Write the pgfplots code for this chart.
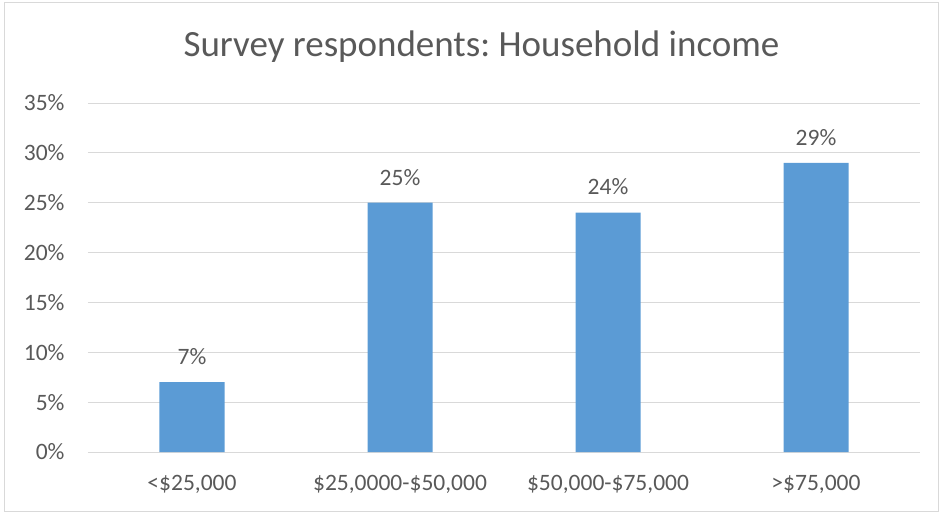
\documentclass[border=0pt]{standalone}
\usepackage{pgfplots}
\pgfplotsset{compat=1.18}
\usepackage{fontspec}
\setmainfont{Carlito}
\usetikzlibrary{calc}
\definecolor{barblue}{HTML}{5B9BD5}
\definecolor{txtc}{HTML}{595959}
\definecolor{gridc}{HTML}{D9D9D9}
\frenchspacing
\begin{document}
\begin{tikzpicture}
\begin{axis}[
  name=ax,
  scale only axis,
  width=832bp, height=349bp,
  xmin=-0.5, xmax=3.5,
  ymin=0, ymax=35,
  ytick={0,5,10,15,20,25,30,35},
  xtick={0,1,2,3},
  xticklabels={<\$25{,}000, \$25{,}0000-\$50{,}000, \$50{,}000-\$75{,}000, >\$75{,}000},
  yticklabel={\pgfmathprintnumber{\tick}\%},
  /pgf/number format/assume math mode=true,
  axis line style={draw=none},
  major tick length=0pt,
  xmajorgrids=false,
  ymajorgrids=true,
  major grid style={draw=gridc, line width=1bp},
  tick label style={font=\fontsize{23.5bp}{28bp}\selectfont, text=txtc},
  yticklabel style={xshift=-20bp},
  xticklabel style={yshift=-20bp},
  clip=false,
]
\addplot[ybar, bar width=65bp, fill=barblue, draw=none,
  nodes near coords={\pgfmathprintnumber{\pgfplotspointmeta}\%},
  nodes near coords style={font=\fontsize{23.5bp}{28bp}\selectfont, text=txtc, yshift=14bp},
] coordinates {(0,7) (1,25) (2,24) (3,29)};
\end{axis}
\node[font=\fontsize{37bp}{44bp}\selectfont, text=txtc] at ($(ax.south west)+(393.5bp,405bp)$) {Survey respondents: Household income};
\draw[gridc, line width=1bp] ($(ax.south west)+(-83bp,-59bp)$) rectangle ($(ax.south west)+(850bp,449bp)$);
\useasboundingbox ($(ax.south west)+(-88bp,-61bp)$) rectangle ($(ax.south west)+(855bp,452bp)$);
\end{tikzpicture}
\end{document}
